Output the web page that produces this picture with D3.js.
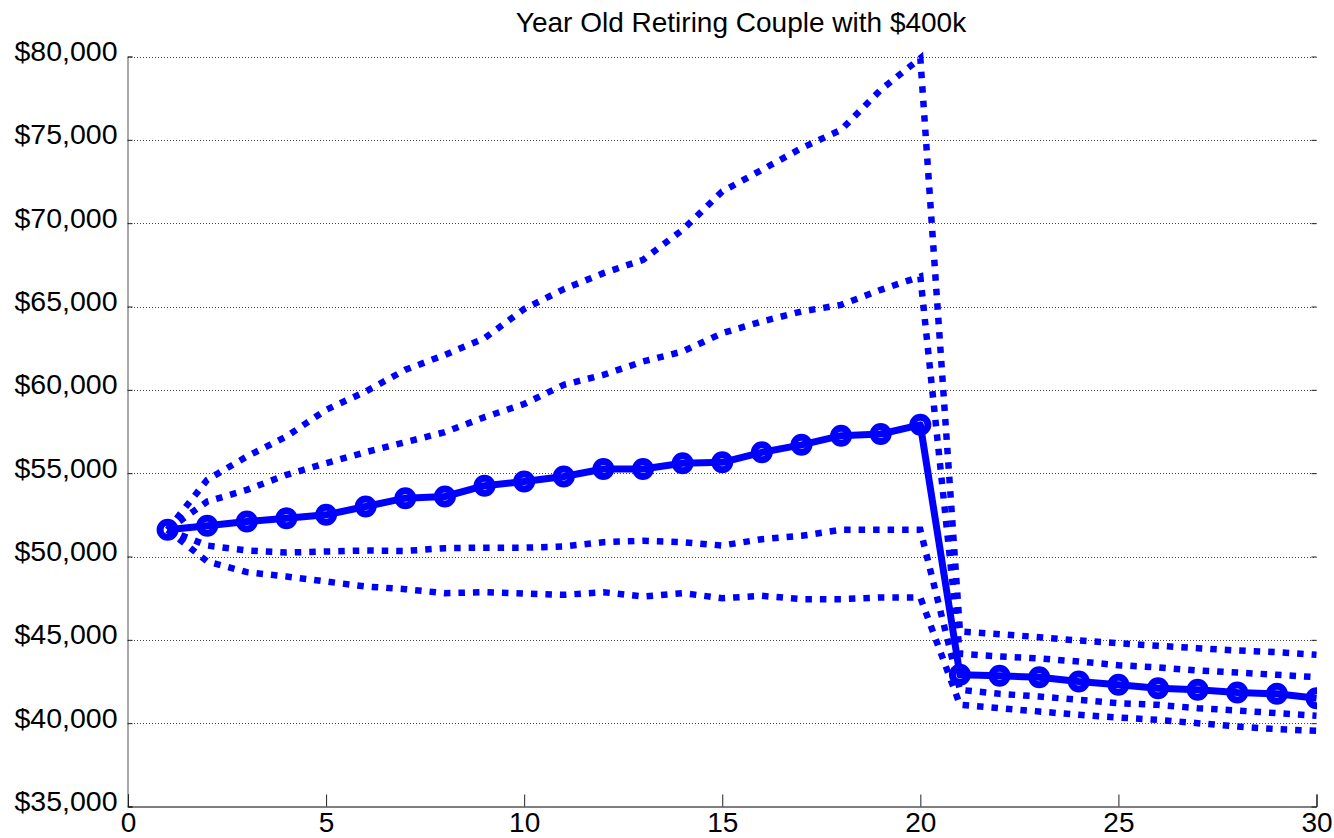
<!DOCTYPE html>
<html>
<head>
<meta charset="utf-8">
<script src="https://cdn.jsdelivr.net/npm/d3@7"></script>
<style>
  html, body { margin: 0; padding: 0; background: #fff; }
  svg { display: block; }
  text { font-family: "Liberation Sans", Arial, Helvetica, sans-serif; fill: #000; }
</style>
</head>
<body>
<svg id="chart" width="1334" height="838"></svg>
<script>
// ---- data ----
const title = "Year Old Retiring Couple with $400k";
const years = [1,2,3,4,5,6,7,8,9,10,11,12,13,14,15,16,17,18,19,20,21,22,23,24,25,26,27,28,29,30];
const median = [51600,51850,52100,52300,52500,53000,53500,53600,54250,54500,54800,55250,55250,55600,55650,56250,56700,57250,57350,57900,42900,42840,42760,42500,42300,42100,42000,41840,41760,41500];
const p90 = [51600,54600,56000,57200,58800,59900,61200,62100,63100,64850,66040,67000,67800,69600,71900,73200,74500,75600,78000,79900,45500,45340,45160,44960,44800,44640,44500,44360,44260,44100];
const p75 = [51600,53300,54000,54900,55600,56260,56860,57460,58360,59150,60300,60900,61700,62300,63400,64100,64700,65100,66000,66800,44160,44000,43880,43700,43480,43340,43160,43040,42900,42760];
const p25 = [51600,50660,50360,50240,50300,50360,50330,50500,50530,50530,50600,50860,50940,50860,50660,51040,51240,51600,51600,51600,42000,41760,41600,41400,41200,41100,40900,40760,40600,40440];
const p10 = [51600,49700,49060,48800,48500,48200,48040,47800,47860,47780,47700,47860,47600,47800,47500,47640,47440,47440,47540,47540,41100,40900,40700,40500,40340,40200,40000,39800,39640,39540];
const xTicks = [0,5,10,15,20,25,30];
const yTicks = [35000,40000,45000,50000,55000,60000,65000,70000,75000,80000];

// ---- layout ----
const svg = d3.select("#chart");
const L = 128, R = 1316.5, T = 56.5, B = 806.5;
const x = d3.scaleLinear().domain([0, 30]).range([L, R]);
const y = d3.scaleLinear().domain([35000, 80000]).range([B, T]);
const fmt = v => "$" + d3.format(",")(v);

// clip
svg.append("defs").append("clipPath").attr("id", "clip")
  .append("rect").attr("x", L).attr("y", 0).attr("width", R - L + 0.5).attr("height", B);

// grid lines (dotted)
svg.append("g").selectAll("line").data(yTicks.filter(v => v > 35000)).join("line")
  .attr("x1", L).attr("x2", R)
  .attr("y1", d => Math.round(y(d)) + 0.5).attr("y2", d => Math.round(y(d)) + 0.5)
  .attr("stroke", "#444").attr("stroke-width", 1).attr("stroke-dasharray", "1,2");

// left axis
const yAxisL = d3.axisLeft(y).tickValues(yTicks).tickSize(-5).tickFormat(fmt).tickPadding(0);
const gL = svg.append("g").attr("transform", `translate(${L - 0.5},0)`).call(yAxisL);
gL.select(".domain").attr("stroke", "#555");
gL.selectAll(".tick line").attr("stroke", "#222");
gL.selectAll(".tick text")
  .attr("x", -10).attr("dy", "0.28em").attr("y", -3.5)
  .attr("font-size", 27).attr("text-anchor", "end")
  .attr("textLength", 103).attr("lengthAdjust", "spacingAndGlyphs")
  .style("font-family", "'Liberation Sans', Arial, sans-serif");

// right ticks only
const yAxisR = d3.axisRight(y).tickValues(yTicks).tickSize(-5).tickFormat("");
const gR = svg.append("g").attr("transform", `translate(${R},0)`).call(yAxisR);
gR.select(".domain").remove();
gR.selectAll(".tick line").attr("stroke", "#222");

// bottom axis
const xAxis = d3.axisBottom(x).tickValues(xTicks).tickSize(-12).tickFormat(d3.format("d")).tickPadding(0);
const gB = svg.append("g").attr("transform", `translate(0,${B})`).call(xAxis);
gB.select(".domain").attr("stroke", "#000");
gB.selectAll(".tick line").attr("stroke", "#222");
gB.selectAll(".tick text")
  .attr("y", 6).attr("dy", "0.71em")
  .attr("font-size", 28)
  .style("font-family", "'Liberation Sans', Arial, sans-serif");

// title
svg.append("text").attr("x", 741).attr("y", 32).attr("text-anchor", "middle")
  .attr("font-size", 28).text(title);

// series
const plot = svg.append("g").attr("clip-path", "url(#clip)");
const line = d3.line().x((d, i) => x(years[i])).y(d => y(d));

[p90, p75, p25, p10].forEach(s => {
  plot.append("path").datum(s).attr("d", line)
    .attr("fill", "none").attr("stroke", "#0000ff")
    .attr("stroke-width", 6.5).attr("stroke-dasharray", "6.5,8")
    .attr("stroke-linejoin", "miter");
});

plot.append("path").datum(median).attr("d", line)
  .attr("fill", "none").attr("stroke", "#0000ff").attr("stroke-width", 7)
  .attr("stroke-linejoin", "round");

plot.append("g").selectAll("circle").data(median).join("circle")
  .attr("cx", (d, i) => x(years[i])).attr("cy", d => y(d))
  .attr("r", 7.5).attr("fill", "none").attr("stroke", "#0000ff").attr("stroke-width", 7);
</script>
</body>
</html>
